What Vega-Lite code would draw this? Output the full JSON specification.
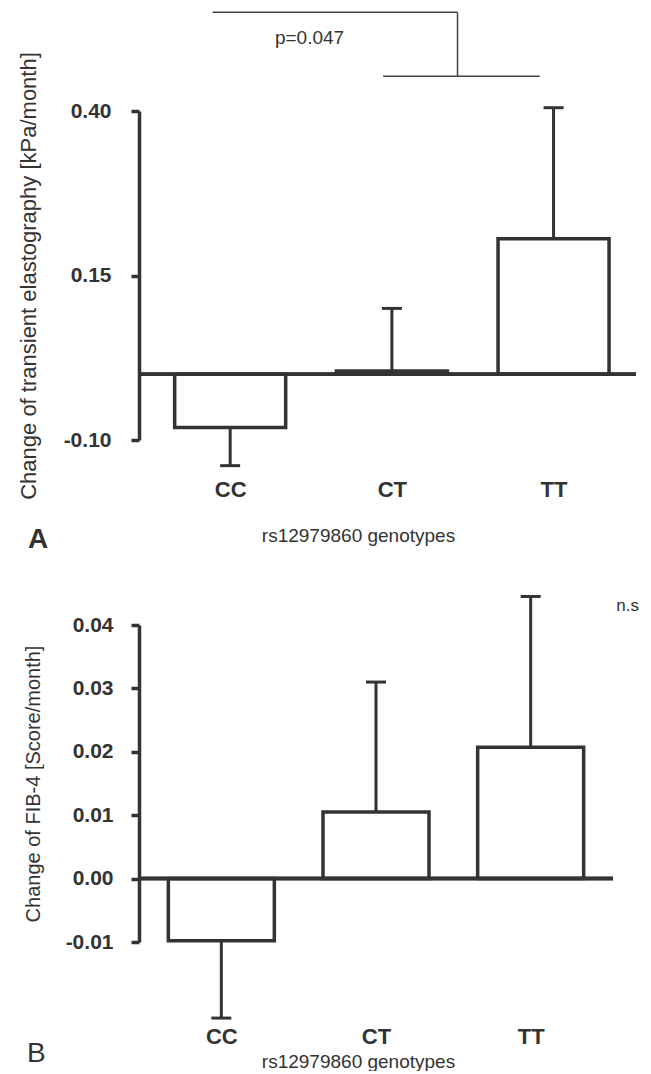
{
  "$schema": "https://vega.github.io/schema/vega-lite/v6.json",
  "padding": {"left": 17, "top": 11, "right": 0, "bottom": 0},
  "background": "white",
  "spacing": 39,
  "config": {
    "view": {"stroke": null},
    "font": "Liberation Sans",
    "axis": {
      "grid": false,
      "domainColor": "#333333",
      "tickColor": "#333333",
      "labelColor": "#333333",
      "titleColor": "#333333",
      "labelFont": "Liberation Sans",
      "titleFont": "Liberation Sans"
    }
  },
  "datasets": {
    "fe": [
      {"genotype": "CC", "idx": 1, "mean": -0.081, "end": -0.139},
      {"genotype": "CT", "idx": 2, "mean": 0.005, "end": 0.1},
      {"genotype": "TT", "idx": 3, "mean": 0.206, "end": 0.405}
    ],
    "fib": [
      {"genotype": "CC", "idx": 1, "mean": -0.0098, "end": -0.022},
      {"genotype": "CT", "idx": 2, "mean": 0.0105, "end": 0.031},
      {"genotype": "TT", "idx": 3, "mean": 0.0207, "end": 0.0445}
    ],
    "bracket": [
      {"x1": 0.891, "x2": 2.406, "y1": 0.55, "y2": 0.55},
      {"x1": 2.406, "x2": 2.406, "y1": 0.55, "y2": 0.453},
      {"x1": 1.946, "x2": 2.915, "y1": 0.453, "y2": 0.453}
    ]
  },
  "vconcat": [
    {
      "width": 497,
      "height": 329,
      "layer": [
        {
          "data": {"name": "fe"},
          "mark": {"type": "bar", "width": 111, "fill": "white", "stroke": "#333333", "strokeWidth": 3.5},
          "encoding": {
            "x": {
              "field": "idx", "type": "quantitative",
              "scale": {"domain": [0.467, 3.479], "nice": false, "zero": false},
              "axis": {
                "values": [1, 2, 3],
                "labelExpr": "datum.value == 1 ? 'CC' : datum.value == 2 ? 'CT' : 'TT'",
                "domain": false, "ticks": false,
                "labelFontSize": 22, "labelFontWeight": "bold", "labelPadding": 39,
                "title": "rs12979860 genotypes", "titleFontSize": 19, "titleFontWeight": "normal",
                "titlePadding": 26, "titleX": 219
              }
            },
            "y": {
              "field": "mean", "type": "quantitative",
              "scale": {"domain": [-0.1, 0.4], "nice": false, "zero": false},
              "axis": {
                "values": [-0.1, 0.15, 0.4], "format": ".2f",
                "labelExpr": "replace(datum.label, '\u2212', '-')",
                "domainWidth": 3.5, "tickWidth": 3.5, "tickSize": 8,
                "labelFontSize": 21, "labelFontWeight": "bold", "labelPadding": 20,
                "title": "Change of transient elastography [kPa/month]",
                "titleFontSize": 22, "titleFontWeight": "normal", "titlePadding": 23
              }
            },
            "y2": {"datum": 0}
          }
        },
        {
          "data": {"name": "fe"},
          "mark": {"type": "rule", "stroke": "#333333", "strokeWidth": 3.5},
          "encoding": {"y": {"datum": 0}}
        },
        {
          "data": {"name": "fe"},
          "mark": {"type": "rule", "stroke": "#333333", "strokeWidth": 3},
          "encoding": {
            "x": {"field": "idx", "type": "quantitative"},
            "y": {"field": "mean", "type": "quantitative"},
            "y2": {"field": "end"}
          }
        },
        {
          "data": {"name": "fe"},
          "mark": {"type": "tick", "orient": "horizontal", "size": 20, "thickness": 3, "color": "#333333", "opacity": 1},
          "encoding": {
            "x": {"field": "idx", "type": "quantitative"},
            "y": {"field": "end", "type": "quantitative"}
          }
        },
        {
          "data": {"name": "bracket"},
          "mark": {"type": "rule", "stroke": "#444444", "strokeWidth": 1.5},
          "encoding": {
            "x": {"field": "x1", "type": "quantitative"},
            "x2": {"field": "x2"},
            "y": {"field": "y1", "type": "quantitative"},
            "y2": {"field": "y2"}
          }
        },
        {
          "data": {"values": [{"label": "p=0.047"}]},
          "mark": {"type": "text", "fontSize": 19, "color": "#333333", "font": "Liberation Sans"},
          "encoding": {
            "x": {"datum": 1.491},
            "y": {"datum": 0.511},
            "text": {"field": "label"}
          }
        },
        {
          "data": {"values": [{"label": "A"}]},
          "mark": {"type": "text", "fontSize": 28, "fontWeight": "bold", "color": "#333333", "font": "Liberation Sans"},
          "encoding": {
            "x": {"datum": -0.188},
            "y": {"datum": -0.252},
            "text": {"field": "label"}
          }
        }
      ]
    },
    {
      "width": 474,
      "height": 317,
      "layer": [
        {
          "data": {"name": "fib"},
          "mark": {"type": "bar", "width": 106, "fill": "white", "stroke": "#333333", "strokeWidth": 3.5},
          "encoding": {
            "x": {
              "field": "idx", "type": "quantitative",
              "scale": {"domain": [0.5, 3.5], "nice": false, "zero": false},
              "axis": {
                "values": [1, 2, 3],
                "labelExpr": "datum.value == 1 ? 'CC' : datum.value == 2 ? 'CT' : 'TT'",
                "domain": false, "ticks": false,
                "labelFontSize": 22, "labelFontWeight": "bold", "labelPadding": 84,
                "title": "rs12979860 genotypes", "titleFontSize": 19, "titleFontWeight": "normal",
                "titlePadding": 5, "titleX": 219
              }
            },
            "y": {
              "field": "mean", "type": "quantitative",
              "scale": {"domain": [-0.01, 0.04], "nice": false, "zero": false},
              "axis": {
                "values": [-0.01, 0, 0.01, 0.02, 0.03, 0.04], "format": ".2f",
                "labelExpr": "replace(datum.label, '\u2212', '-')",
                "domainWidth": 3.5, "tickWidth": 3.5, "tickSize": 8,
                "labelFontSize": 21, "labelFontWeight": "bold", "labelPadding": 18,
                "title": "Change of FIB-4 [Score/month]",
                "titleFontSize": 20, "titleFontWeight": "normal", "titlePadding": 22
              }
            },
            "y2": {"datum": 0}
          }
        },
        {
          "data": {"name": "fib"},
          "mark": {"type": "rule", "stroke": "#333333", "strokeWidth": 3.5},
          "encoding": {"y": {"datum": 0}}
        },
        {
          "data": {"name": "fib"},
          "mark": {"type": "rule", "stroke": "#333333", "strokeWidth": 3},
          "encoding": {
            "x": {"field": "idx", "type": "quantitative"},
            "y": {"field": "mean", "type": "quantitative"},
            "y2": {"field": "end"}
          }
        },
        {
          "data": {"name": "fib"},
          "mark": {"type": "tick", "orient": "horizontal", "size": 20, "thickness": 3, "color": "#333333", "opacity": 1},
          "encoding": {
            "x": {"field": "idx", "type": "quantitative"},
            "y": {"field": "end", "type": "quantitative"}
          }
        },
        {
          "data": {"values": [{"label": "n.s"}]},
          "mark": {"type": "text", "fontSize": 17, "color": "#333333", "font": "Liberation Sans"},
          "encoding": {
            "x": {"datum": 3.627},
            "y": {"datum": 0.043},
            "text": {"field": "label"}
          }
        },
        {
          "data": {"values": [{"label": "B"}]},
          "mark": {"type": "text", "fontSize": 28, "color": "#333333", "font": "Liberation Sans"},
          "encoding": {
            "x": {"datum": -0.196},
            "y": {"datum": -0.0276},
            "text": {"field": "label"}
          }
        }
      ]
    }
  ]
}
